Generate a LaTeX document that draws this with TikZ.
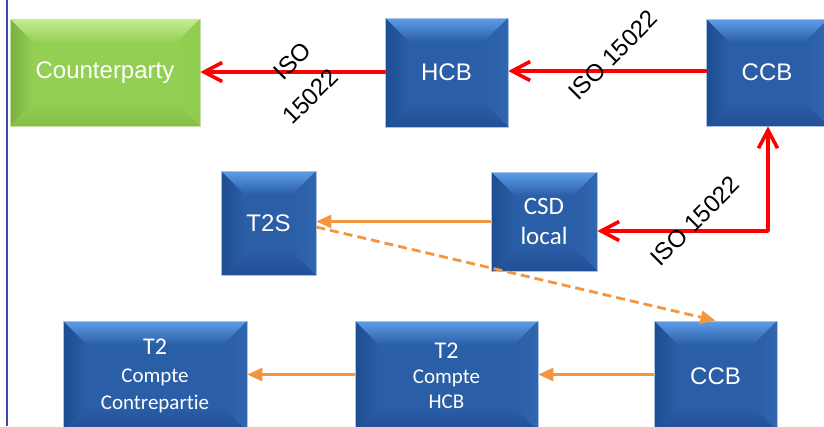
\documentclass[tikz,border=0pt]{standalone}
\usepackage{fontspec}
\setmainfont{Liberation Sans}
\newfontfamily\calfont[Ligatures=NoCommon]{Carlito}
\usetikzlibrary{arrows.meta}
\definecolor{bface}{HTML}{2A5EA6}
\definecolor{btop}{HTML}{5E9DE9}
\definecolor{bleft}{HTML}{1D4D91}
\definecolor{bright}{HTML}{3067B0}
\definecolor{bbot}{HTML}{224F96}
\definecolor{bedge}{HTML}{A9C3E4}
\definecolor{gface}{HTML}{93CF53}
\definecolor{gtop}{HTML}{C6EC92}
\definecolor{gleft}{HTML}{78B23E}
\definecolor{gright}{HTML}{8ECB4F}
\definecolor{gbot}{HTML}{84BE48}
\definecolor{gedge}{HTML}{C8E0A8}
\definecolor{isored}{HTML}{FF0000}
\definecolor{orng}{HTML}{F4953F}
\definecolor{leftrule}{HTML}{3A4AA5}
\def\bvsz{24pt}
\newcommand\bevelpic[5]{%
  \path (path picture bounding box.north west) coordinate (q1)
        (path picture bounding box.north east) coordinate (q2)
        (path picture bounding box.south east) coordinate (q3)
        (path picture bounding box.south west) coordinate (q4);
  \path ([xshift=\bvsz,yshift=-\bvsz]q1) coordinate (i1)
        ([xshift=-\bvsz,yshift=-\bvsz]q2) coordinate (i2)
        ([xshift=-\bvsz,yshift=\bvsz]q3) coordinate (i3)
        ([xshift=\bvsz,yshift=\bvsz]q4) coordinate (i4);
  \fill[#1] (q1) rectangle (q3);
  \shade[top color=#2, bottom color=#1] (q1) -- (q2) -- (i2) -- (i1) -- cycle;
  \shade[left color=#3, right color=#1] (q1) -- (i1) -- (i4) -- (q4) -- cycle;
  \shade[right color=#4, left color=#1] (q2) -- (i2) -- (i3) -- (q3) -- cycle;
  \shade[bottom color=#5, top color=#1] (q4) -- (i4) -- (i3) -- (q3) -- cycle;
}
\tikzset{
  redtip/.tip={Straight Barb[length=18pt,width=19pt]},
  orngtip/.tip={Triangle[length=15pt,width=13pt]},
}
\begin{document}
\begin{tikzpicture}[x=1pt,y=-1pt,
  bluebox/.style={rectangle, draw=bedge, line width=0.7pt, text=white, align=center,
    inner sep=0pt, font=\fontsize{24}{29}\selectfont,
    path picture={\bevelpic{bface}{btop}{bleft}{bright}{bbot}}},
  greenbox/.style={rectangle, draw=gedge, line width=0.7pt, text=white, align=center,
    inner sep=0pt, font=\fontsize{24}{29}\selectfont,
    path picture={\bevelpic{gface}{gtop}{gleft}{gright}{gbot}}},
  calibox/.style={bluebox, font=\calfont\fontsize{21}{26}\selectfont},
  redarrow/.style={draw=isored, line width=3.6pt, line cap=round, line join=round},
  orngline/.style={draw=orng, line width=2.8pt},
  isolabel/.style={text=black, inner sep=0pt, rotate=45, font=\fontsize{24}{38}\selectfont},
]
\useasboundingbox (0,0) rectangle (824,426);
\clip (0,0) rectangle (824,426);
\fill[white] (0,0) rectangle (824,426);
\draw[leftrule, line width=2pt] (7,0) -- (7,426);

% boxes
\node[greenbox, minimum width=190pt, minimum height=107pt] (cp) at (105,72.5) {Counterparty};
\node[bluebox, minimum width=123pt, minimum height=109pt] (hcb) at (446.5,72.5) {HCB};
\node[bluebox, minimum width=122pt, minimum height=107pt] (ccb1) at (767,72.5) {CCB};
\node[bluebox, minimum width=95pt, minimum height=104pt] (t2s) at (268.5,223) {T2S};
\node[bluebox, minimum width=106pt, minimum height=99pt, font=\calfont\fontsize{25}{30}\selectfont] (csd) at (544,221.5) {CSD\\local};
\node[calibox, minimum width=184pt, minimum height=110pt, font=\calfont\fontsize{21}{27.5}\selectfont] (t2c) at (155,376) {{\fontsize{24}{27.5}\selectfont T2}\\Compte\\Contrepartie};
\node[calibox, minimum width=183pt, minimum height=110pt, font=\calfont\fontsize{21}{25}\selectfont] (t2h) at (446.5,376) {{\fontsize{24}{25}\selectfont T2}\\Compte\\HCB};
\node[bluebox, minimum width=123pt, minimum height=110pt] (ccb2) at (715.5,376) {CCB};

% red ISO 15022 flows
\draw[redarrow, -redtip] ([yshift=1.5pt]ccb1.west) -- ([yshift=1.5pt]hcb.east);
\draw[redarrow, -redtip] ([yshift=0.5pt]hcb.west) -- ([yshift=0.5pt]cp.east);
\coordinate (rc) at (768,231);
\draw[redarrow, redtip-redtip] (csd.east |- rc) -- (rc) -- (ccb1.south -| rc);

% orange flows
\draw[orngline, -orngtip] (csd.west) -- (t2s.east |- csd.west);
\draw[orngline, dash pattern=on 9pt off 5pt, -orngtip] ([yshift=-4pt]t2s.east) -- (ccb2.north);
\draw[orngline, -orngtip] ([yshift=1.5pt]ccb2.west) -- ([yshift=1.5pt]t2h.east);
\draw[orngline, -orngtip] ([yshift=1.5pt]t2h.west) -- ([yshift=1.5pt]t2c.east);

% labels
\node[isolabel, align=right] (lab1) at (297,83) {ISO\\15022};
\node[isolabel] (lab2) at (613,55) {ISO 15022};
\node[isolabel] (lab3) at (695,221) {ISO 15022};
\end{tikzpicture}
\end{document}
